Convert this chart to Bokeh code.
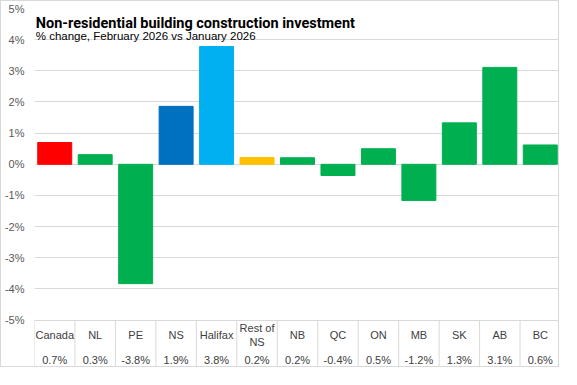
from bokeh.plotting import figure
from bokeh.models import ColumnDataSource, FixedTicker, Range1d, Label
from bokeh.core.properties import value
from bokeh.embed import file_html
from bokeh.resources import INLINE

# ---- data ----
categories = ["Canada", "NL", "PE", "NS", "Halifax", "Rest of NS", "NB",
              "QC", "ON", "MB", "SK", "AB", "BC"]
table_labels = ["Canada", "NL", "PE", "NS", "Halifax", "Rest of\nNS", "NB",
                "QC", "ON", "MB", "SK", "AB", "BC"]
values = [0.70, 0.31, -3.83, 1.86, 3.78, 0.22, 0.21,
          -0.36, 0.50, -1.16, 1.33, 3.11, 0.62]
bar_colors = ["#FF0000", "#00B050", "#00B050", "#0070C0", "#00B0F0", "#FFC000",
              "#00B050", "#00B050", "#00B050", "#00B050", "#00B050", "#00B050",
              "#00B050"]
y_ticks = [-5, -4, -3, -2, -1, 0, 1, 2, 3, 4, 5]
title_text = "Non-residential building construction investment"
subtitle_text = "% change, February 2026 vs January 2026"

# ---- layout constants ----
Y_TOP = 5
Y_BOTTOM = -6.553
ROW_CAT = -5.478
ROW_VAL = -6.28
GRID = "#d9d9d9"
TXT = "#404040"
FONT = "Liberation Sans"

n = len(categories)
centers = [i + 0.5 for i in range(n)]
value_labels = [f"{v:.1f}%" for v in values]

src = ColumnDataSource(dict(x=centers, top=values, color=bar_colors,
                            cat=table_labels, val=value_labels,
                            ycat=[ROW_CAT] * n, yval=[ROW_VAL] * n))

p = figure(width=559, height=367, x_range=Range1d(0, n),
           y_range=Range1d(Y_BOTTOM, Y_TOP), output_backend="svg",
           toolbar_location=None, min_border_left=30, min_border_right=0,
           min_border_top=7, min_border_bottom=0)
p.styles = {"border": "1px solid #d9d9d9"}
p.outline_line_color = None
p.xaxis.visible = False
p.xgrid.visible = False
p.background_fill_color = "white"
p.border_fill_color = "white"

p.yaxis.ticker = FixedTicker(ticks=y_ticks)
p.ygrid.ticker = FixedTicker(ticks=y_ticks)
p.ygrid.grid_line_color = GRID
p.yaxis.major_label_overrides = {t: f"{t}%" for t in y_ticks}
p.yaxis.axis_line_color = None
p.yaxis.major_tick_line_color = None
p.yaxis.minor_tick_line_color = None
p.yaxis.major_tick_out = 0
p.yaxis.major_tick_in = 0
p.yaxis.major_label_standoff = 10
p.yaxis.major_label_text_font = FONT
p.yaxis.major_label_text_font_size = "11px"
p.yaxis.major_label_text_color = "#595959"

p.vbar(x="x", top="top", bottom=0, width=0.84, color="color", source=src)

# table lines
bounds = list(range(n + 1))
p.segment(x0=bounds, y0=[-5] * (n + 1), x1=bounds, y1=[Y_BOTTOM] * (n + 1),
          line_color=GRID, line_width=1)

p.text(x="x", y="ycat", text="cat", source=src, text_align="center",
       text_baseline="middle", text_font=value(FONT), text_font_size="11px",
       text_color=TXT, text_line_height=1.15)
p.text(x="x", y="yval", text="val", source=src, text_align="center",
       text_baseline="middle", text_font=value(FONT), text_font_size="11px",
       text_color=TXT)

p.add_layout(Label(x=0.03, y=4.53, text=title_text, text_font="Roboto",
                   text_font_style="bold", text_font_size="14.5px",
                   text_color="black", text_baseline="alphabetic"))
p.add_layout(Label(x=0.03, y=4.114, text=subtitle_text, text_font=FONT,
                   text_font_size="11.5px", text_color="black",
                   text_baseline="alphabetic"))

open("out.html", "w").write(file_html(p, INLINE))
